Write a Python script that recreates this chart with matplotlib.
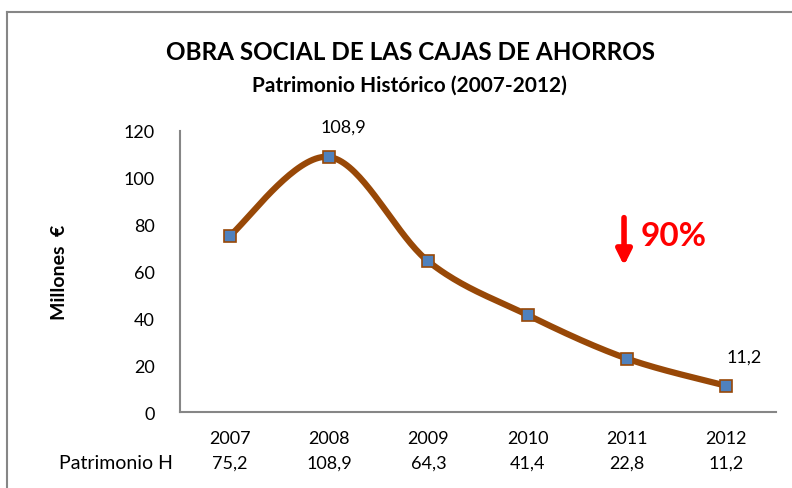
"""
Obra social de las cajas de ahorros - Patrimonio historico 2007-2012
"""

import numpy as np
import matplotlib
matplotlib.use("Agg")
import matplotlib.pyplot as plt
from matplotlib.lines import Line2D

plt.rcParams['font.family'] = ['Lato', 'DejaVu Sans']

years = ['2007', '2008', '2009', '2010', '2011', '2012']
patrimonio = [75.2, 108.9, 64.3, 41.4, 22.8, 11.2]
row_label = 'Patrimonio H'
y_ticks = [0, 20, 40, 60, 80, 100, 120]


def smooth_curve(xs, ys, n=40):
    """Bezier curve through the points, like the Excel smoothed line"""
    xs = np.asarray(xs, float)
    ys = np.asarray(ys, float)
    px = np.concatenate([[xs[0]], xs, [xs[-1]]])
    py = np.concatenate([[ys[0]], ys, [ys[-1]]])
    out_x, out_y = [], []
    t = np.linspace(0, 1, n)
    for i in range(len(xs) - 1):
        p0 = np.array([px[i + 1], py[i + 1]])
        p3 = np.array([px[i + 2], py[i + 2]])
        p1 = p0 + (np.array([px[i + 2], py[i + 2]]) - np.array([px[i], py[i]])) / 6
        p2 = p3 - (np.array([px[i + 3], py[i + 3]]) - np.array([px[i + 1], py[i + 1]])) / 6
        b = ((1 - t) ** 3)[:, None] * p0 + (3 * (1 - t) ** 2 * t)[:, None] * p1 \
            + (3 * (1 - t) * t ** 2)[:, None] * p2 + (t ** 3)[:, None] * p3
        out_x.extend(b[:, 0])
        out_y.extend(b[:, 1])
    return np.array(out_x), np.array(out_y)


fig = plt.figure(figsize=(7.92, 4.89), dpi=100)
ax = fig.add_axes([0.2273, 0.1554, 0.7525, 0.5747])

x = np.arange(len(years))
sx, sy = smooth_curve(x, patrimonio)
ax.plot(sx, sy, color='#984807', linewidth=4.5, solid_capstyle='round', zorder=2)
ax.plot(x, patrimonio, linestyle='none', marker='s', markersize=9,
        markerfacecolor='#4F81BD', markeredgecolor='#984807', markeredgewidth=1.2, zorder=3)

ax.set_xlim(-0.5, len(years) - 0.5)
ax.set_ylim(0, 120)
ax.set_yticks(y_ticks)
ax.set_xticks(x)
ax.set_xticklabels(years)
ax.tick_params(axis='both', length=0, labelsize=13, colors='black')
ax.tick_params(axis='x', pad=13)
ax.tick_params(axis='y', pad=18)
for s in ['top', 'right']:
    ax.spines[s].set_visible(False)
for s in ['left', 'bottom']:
    ax.spines[s].set_color('#868686')
    ax.spines[s].set_linewidth(1.5)

# data labels
ax.annotate('108,9', (1, patrimonio[1]), xytext=(10, 16), textcoords='offset points',
            ha='center', va='bottom', fontsize=13)
ax.annotate('11,2', (5, patrimonio[5]), xytext=(13, 15), textcoords='offset points',
            ha='center', va='bottom', fontsize=13)

# data table row
ax.text(-0.012, -0.18, row_label, transform=ax.transAxes,
        ha='right', va='center', fontsize=14)
for i, v in enumerate(patrimonio):
    ax.text(i, -0.18, f'{v:.1f}'.replace('.', ','), transform=ax.get_xaxis_transform(),
            ha='center', va='center', fontsize=13)

# red arrow and percentage
ax.annotate('', xy=(3.97, 62.5), xytext=(3.97, 83),
            arrowprops=dict(arrowstyle='-|>,head_length=0.9,head_width=0.45',
                            color='#FF0000', lw=4, shrinkA=0, shrinkB=0))
ax.text(4.14, 75.5, '90%', color='#FF0000', fontsize=24, fontweight='bold',
        ha='left', va='center')

ax.set_ylabel('Millones  €', fontsize=14, fontweight='bold', labelpad=40)

fig.text(0.518, 0.893, 'OBRA SOCIAL DE LAS CAJAS DE AHORROS', ha='center', va='center',
         fontsize=17.5, fontweight='bold')
fig.text(0.517, 0.824, 'Patrimonio Histórico (2007-2012)', ha='center', va='center',
         fontsize=15, fontweight='bold')

# outer frame of the chart area
fig.add_artist(Line2D([7 / 792, 1], [1 - 13 / 489, 1 - 13 / 489], color='#868686',
                      linewidth=1.5, transform=fig.transFigure))
fig.add_artist(Line2D([7 / 792, 7 / 792], [0, 1 - 13 / 489], color='#868686',
                      linewidth=1.5, transform=fig.transFigure))

fig.savefig('out.png', dpi=100)
